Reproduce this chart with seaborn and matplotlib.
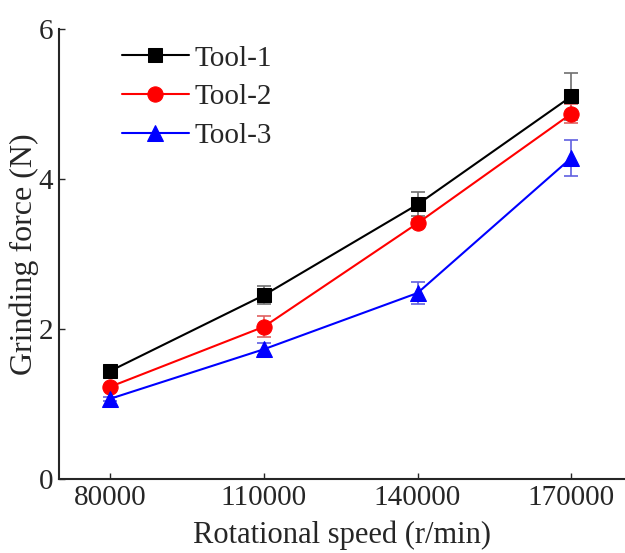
import matplotlib
matplotlib.use("Agg")
import matplotlib.pyplot as plt
import seaborn as sns
import pandas as pd

speeds = [80000, 110000, 140000, 170000]
tool1 = [1.44, 2.45, 3.66, 5.10]
tool2 = [1.23, 2.03, 3.41, 4.87]
tool3 = [1.07, 1.73, 2.48, 4.28]
err1 = [0.03, 0.12, 0.16, 0.31]
err2 = [0.03, 0.14, 0.05, 0.13]
err3 = [0.03, 0.08, 0.15, 0.24]
labels = ["Tool-1", "Tool-2", "Tool-3"]
colors = ["black", "red", "blue"]
ecolors = ["#707070", "#e06060", "#6060e0"]
markers = ["s", "o", "^"]
msizes = [10, 11, 11]

sns.set_style("ticks")
plt.rcParams['font.family'] = ['Liberation Serif', 'DejaVu Serif']

df = pd.DataFrame({
    "speed": speeds * 3,
    "force": tool1 + tool2 + tool3,
    "tool": [labels[0]] * 4 + [labels[1]] * 4 + [labels[2]] * 4,
})
errs = [err1, err2, err3]
vals = [tool1, tool2, tool3]

fig = plt.figure(figsize=(6.25, 5.53), dpi=100)
ax = fig.add_axes([0.0944, 0.1338, 0.9056, 0.8138])

for i, lab in enumerate(labels):
    ax.errorbar(speeds, vals[i], yerr=errs[i], fmt="none", ecolor=ecolors[i],
                elinewidth=1.2, capsize=5, capthick=1.2, zorder=1)
    sub = df[df["tool"] == lab]
    sns.lineplot(data=sub, x="speed", y="force", ax=ax, color=colors[i],
                 marker=markers[i], markersize=msizes[i], markeredgecolor=colors[i],
                 linewidth=1.5, label=lab, zorder=2)

ax.set_xlim(70000, 180500)
ax.set_ylim(0, 6)
ax.set_xticks(speeds)
ax.set_xticklabels([str(s) for s in speeds])
ax.set_yticks([0, 2, 4, 6])
ax.set_yticklabels(["0", "2", "4", "6"])
ax.tick_params(direction="in", length=4, width=1, labelsize=21, pad=4)
ax.set_xlabel("Rotational speed (r/min)", fontsize=22, labelpad=7)
ax.set_ylabel("Grinding force (N)", fontsize=23, labelpad=0)
for s in ["top", "right"]:
    ax.spines[s].set_visible(False)
for s in ["left", "bottom"]:
    ax.spines[s].set_linewidth(1.5)

ax.legend(loc="upper left", bbox_to_anchor=(0.09, 0.99), frameon=False, fontsize=21,
          handlelength=2.3, handletextpad=0.2, labelspacing=0.42, borderaxespad=0)

fig.savefig("out.png", dpi=100)
